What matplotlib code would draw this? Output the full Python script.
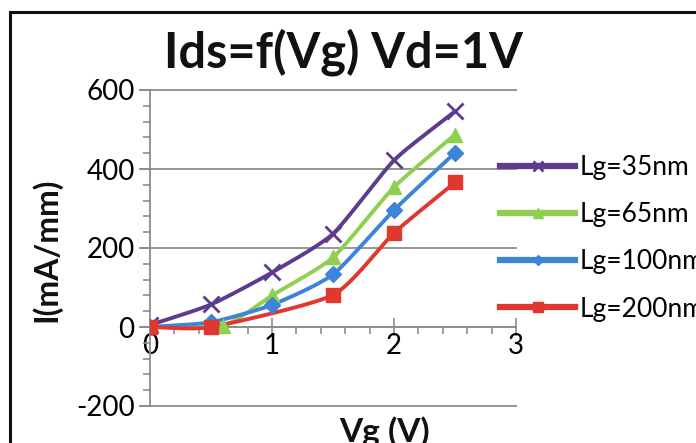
import numpy as np
import matplotlib
matplotlib.use("Agg")
import matplotlib.pyplot as plt
from matplotlib.lines import Line2D
from matplotlib.patches import Rectangle
from matplotlib.ticker import MultipleLocator

# Drain current vs gate voltage for several gate lengths (Vd = 1 V)
labels = ["Lg=35nm", "Lg=65nm", "Lg=100nm", "Lg=200nm"]
vg_35 = [0.0, 0.5, 1.0, 1.5, 2.0, 2.5]
ids_35 = [5, 57, 138, 236, 422, 546]
vg_65 = [0.0, 0.6, 1.0, 1.5, 2.0, 2.5]
ids_65 = [0, 3, 80, 176, 354, 487]
vg_100 = [0.0, 0.5, 1.0, 1.5, 2.0, 2.5]
ids_100 = [0, 12, 56, 133, 296, 441]
vg_200 = [0.0, 0.5, 1.5, 2.0, 2.5]
ids_200 = [0, 0, 81, 238, 366]

colors = ["#5f3b8e", "#8fd14f", "#3d85d8", "#e0372f"]
markers = ["x", "^", "D", "s"]
msizes = [11, 10, 8, 10]

xticks = [0, 1, 2, 3]
yticks = [-200, 0, 200, 400, 600]

FONT = ["Lato", "DejaVu Sans"]
plt.rcParams["font.family"] = FONT
plt.rcParams["axes.unicode_minus"] = False

W, H = 696, 443
fig = plt.figure(figsize=(W / 100, H / 100), dpi=100)

# plot area in pixel coordinates
x0, x1, y0, y1 = 150, 516, 90, 406
ax = fig.add_axes([x0 / W, 1 - y1 / H, (x1 - x0) / W, (y1 - y0) / H])


def smooth(xs, ys, n=30):
    """Catmull-Rom curve through the points, like a smoothed line chart."""
    xs = np.asarray(xs, float)
    ys = np.asarray(ys, float)
    px = np.concatenate([[2 * xs[0] - xs[1]], xs, [2 * xs[-1] - xs[-2]]])
    py = np.concatenate([[2 * ys[0] - ys[1]], ys, [2 * ys[-1] - ys[-2]]])
    outx, outy = [], []
    t = np.linspace(0, 1, n)
    for i in range(1, len(px) - 2):
        for arr, out in ((px, outx), (py, outy)):
            p0, p1, p2, p3 = arr[i - 1], arr[i], arr[i + 1], arr[i + 2]
            m1 = (p2 - p0) / 2 * 0.6
            m2 = (p3 - p1) / 2 * 0.6
            h00 = 2 * t**3 - 3 * t**2 + 1
            h10 = t**3 - 2 * t**2 + t
            h01 = -2 * t**3 + 3 * t**2
            h11 = t**3 - t**2
            out.extend(h00 * p1 + h10 * m1 + h01 * p2 + h11 * m2)
    return np.array(outx), np.array(outy)


series = [(vg_35, ids_35), (vg_65, ids_65), (vg_100, ids_100), (vg_200, ids_200)]
handles = []
for (xs, ys), c, m, ms, lab in zip(series, colors, markers, msizes, labels):
    sx, sy = smooth(xs, ys)
    ax.plot(sx, sy, color=c, lw=2.8, solid_capstyle="round", zorder=3)
    mew = 2.0 if m == "x" else 1
    ax.plot(xs, ys, ls="none", marker=m, ms=ms, color=c, mec=c, mew=mew, zorder=4)
    handles.append(Line2D([], [], color=c, lw=4.5, marker=m, ms=ms * 0.7,
                          mew=mew, mec=c))

ax.set_xlim(0, 3)
ax.set_ylim(-200, 600)
ax.set_xticks(xticks)
ax.set_yticks(yticks)
ax.xaxis.set_minor_locator(MultipleLocator(0.2))
ax.yaxis.set_minor_locator(MultipleLocator(40))

for s in ("top", "right"):
    ax.spines[s].set_visible(False)
ax.spines["bottom"].set_position(("data", 0))
for s in ("left", "bottom"):
    ax.spines[s].set_color("#8c8c8c")
    ax.spines[s].set_linewidth(1.3)
    ax.spines[s].set_zorder(2)

ax.yaxis.grid(True, color="#8c8c8c", lw=1.3, zorder=1)
ax.set_axisbelow(True)
for gl in ax.get_ygridlines():
    gl.set_clip_on(False)

ax.tick_params(axis="y", which="major", length=7, width=1.2, color="#8c8c8c",
               labelsize=20, pad=4)
ax.tick_params(axis="y", which="minor", length=5, width=1.2, color="#8c8c8c")
ax.tick_params(axis="x", which="major", direction="inout", length=13, width=1.2,
               color="#8c8c8c", labelsize=20, pad=-2)
ax.tick_params(axis="x", which="minor", length=5, width=1.2, color="#8c8c8c")

# extend the horizontal grid lines over the tick marks on the left
for yv in yticks:
    ax.plot([-10 / 122, 0], [yv, yv], color="#8c8c8c", lw=1.3, clip_on=False,
            transform=ax.transData, zorder=1)

fig.text(343 / W, 1 - 52 / H, "Ids=f(Vg) Vd=1V", ha="center", va="center",
         fontsize=35, fontweight="bold", color="#111111")
fig.text(46 / W, 1 - 250 / H, "I(mA/mm)", ha="center", va="center",
         rotation=90, fontsize=23, fontweight="bold", color="#111111")
fig.text(385 / W, 1 - 432 / H, "Vg (V)", ha="center", va="center",
         fontsize=24, fontweight="bold", color="#111111")

leg = fig.legend(handles, labels, loc="upper left",
                 bbox_to_anchor=(500 / W, 1 - 155 / H), frameon=False,
                 fontsize=19, handlelength=2.85, handletextpad=0.15,
                 labelspacing=0.84, borderaxespad=0, borderpad=0)

# outer chart border (cut at right and bottom)
fig.add_artist(Rectangle((10 / W, -0.2), 1.2, 1.2 - 12 / H + 0.0,
                         transform=fig.transFigure, fill=False,
                         edgecolor="#111111", lw=2.2, clip_on=False))

fig.savefig("out.png", dpi=100)
